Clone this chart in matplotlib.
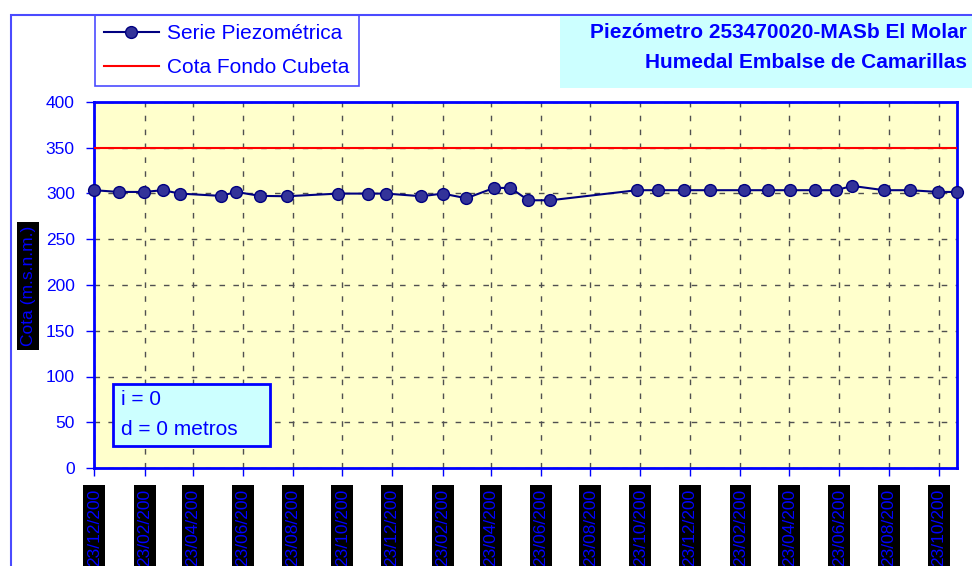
import datetime as dt
import matplotlib
matplotlib.use( "Agg" )
import matplotlib.pyplot as plt
from matplotlib.patches import Rectangle

plt.rcParams['font.family'] = ['Liberation Sans', 'DejaVu Sans']

fechas = [ "2005-12-23", "2006-01-22", "2006-02-22", "2006-03-17", "2006-04-07",
           "2006-05-27", "2006-06-15", "2006-07-14", "2006-08-16", "2006-10-18",
           "2006-11-24", "2006-12-16", "2007-01-28", "2007-02-23", "2007-03-24",
           "2007-04-27", "2007-05-17", "2007-06-08", "2007-07-05", "2007-10-19",
           "2007-11-14", "2007-12-16", "2008-01-17", "2008-02-27", "2008-03-28",
           "2008-04-24", "2008-05-24", "2008-06-19", "2008-07-09", "2008-08-17",
           "2008-09-18", "2008-10-22", "2008-11-14" ]
cotas = [ 303.6, 301.7, 301.7, 303.6, 299.9,
          297.4, 301.7, 297.4, 297.0, 299.9,
          299.9, 299.9, 297.0, 299.9, 294.8,
          306.1, 306.1, 292.6, 292.6, 303.6,
          303.6, 303.6, 303.6, 303.6, 303.6,
          303.6, 303.6, 303.6, 308.3, 303.6,
          303.6, 301.7, 301.7 ]
cota_fondo = 350

tick_fechas = [ "2005-12-23", "2006-02-23", "2006-04-23", "2006-06-23", "2006-08-23",
                "2006-10-23", "2006-12-23", "2007-02-23", "2007-04-23", "2007-06-23",
                "2007-08-23", "2007-10-23", "2007-12-23", "2008-02-23", "2008-04-23",
                "2008-06-23", "2008-08-23", "2008-10-23" ]
tick_labels = [ "23/12/200", "23/02/200", "23/04/200", "23/06/200", "23/08/200",
                "23/10/200", "23/12/200", "23/02/200", "23/04/200", "23/06/200",
                "23/08/200", "23/10/200", "23/12/200", "23/02/200", "23/04/200",
                "23/06/200", "23/08/200", "23/10/200" ]
y_ticks = [ 0, 50, 100, 150, 200, 250, 300, 350, 400 ]

titulo1 = "Piezómetro 253470020-MASb El Molar"
titulo2 = "Humedal Embalse de Camarillas"

W, H = 972, 566
def fx( px ) : return px / W
def fy( py ) : return 1 - py / H

x = [ dt.datetime.strptime( f, "%Y-%m-%d" ) for f in fechas ]
xt = [ dt.datetime.strptime( f, "%Y-%m-%d" ) for f in tick_fechas ]

fig = plt.figure( figsize=( W / 100, H / 100 ), dpi=100 )
ax = fig.add_axes( [ fx( 94.3 ), fy( 468 ), fx( 956.7 ) - fx( 94.3 ), fy( 102 ) - fy( 468 ) ] )
ax.set_facecolor( "#FFFFCC" )

# outer chart border (left and top visible)
fig.add_artist( Rectangle( ( fx( 11 ), -0.2 ), 2.0, fy( 15 ) + 0.2, transform=fig.transFigure,
                           fill=False, edgecolor="#4B4BFF", lw=1.5 ) )
# title box
fig.add_artist( Rectangle( ( fx( 560 ), fy( 88 ) ), 1.0, fy( 16 ) - fy( 88 ), transform=fig.transFigure,
                           facecolor="#CCFFFF", edgecolor="none" ) )
fig.text( fx( 967 ), fy( 33 ), titulo1, ha="right", va="center", color="#0000FF",
          fontsize=15, fontweight="bold" )
fig.text( fx( 967 ), fy( 62 ), titulo2, ha="right", va="center", color="#0000FF",
          fontsize=15, fontweight="bold" )

ax.plot( x, cotas, "-o", color="#000080", mfc="#333399", mec="#000080", ms=8.5, lw=1.5,
         clip_on=False, zorder=5, label="Serie Piezométrica" )
ax.axhline( cota_fondo, color="#FF0000", lw=1.5, zorder=4, label="Cota Fondo Cubeta" )

ax.set_xlim( x[0], x[-1] )
ax.set_ylim( 0, 400 )
ax.set_yticks( y_ticks )
ax.set_xticks( xt )
ax.set_xticklabels( tick_labels, rotation=90 )

ax.grid( True, linestyle=( 0, ( 4, 6 ) ), color="#505050", lw=1 )
ax.set_axisbelow( True )
for s in ax.spines.values() :
    s.set_color( "#0000FF" )
    s.set_linewidth( 2 )

ax.tick_params( axis="y", colors="#0000FF", labelsize=12.5, length=6, width=1, pad=8 )
ax.tick_params( axis="x", colors="#0000FF", labelsize=12.5, length=6, width=1, pad=9 )
for lab in ax.get_xticklabels() :
    lab.set_bbox( dict( facecolor="black", edgecolor="none", pad=2.5 ) )

fig.text( fx( 28 ), fy( 286 ), "Cota (m.s.n.m.)", rotation=90, ha="center", va="center",
          color="#0000FF", fontsize=12.5,
          bbox=dict( facecolor="black", edgecolor="none", pad=2.5 ) )

# i / d box
ax.add_patch( Rectangle( ( 0.0217, 0.060 ), 0.182, 0.1695, transform=ax.transAxes,
                         facecolor="#CCFFFF", edgecolor="#0000FF", lw=2, zorder=6 ) )
ax.text( 0.031, 0.186, "i = 0", transform=ax.transAxes, ha="left", va="center",
         color="#0000FF", fontsize=15, zorder=7 )
ax.text( 0.031, 0.104, "d = 0 metros", transform=ax.transAxes, ha="left", va="center",
         color="#0000FF", fontsize=15, zorder=7 )

leg = ax.legend( loc="upper left", bbox_to_anchor=( fx( 95 ), fy( 15 ) ), bbox_transform=fig.transFigure,
                 borderaxespad=0, fancybox=False, fontsize=15, handlelength=2.6,
                 handletextpad=0.4, labelspacing=0.7, borderpad=0.45, framealpha=1 )
leg.get_frame().set_edgecolor( "#4B4BFF" )
leg.get_frame().set_linewidth( 1.2 )
for t in leg.get_texts() :
    t.set_color( "#0000FF" )

fig.savefig( "out.png", dpi=100 )
